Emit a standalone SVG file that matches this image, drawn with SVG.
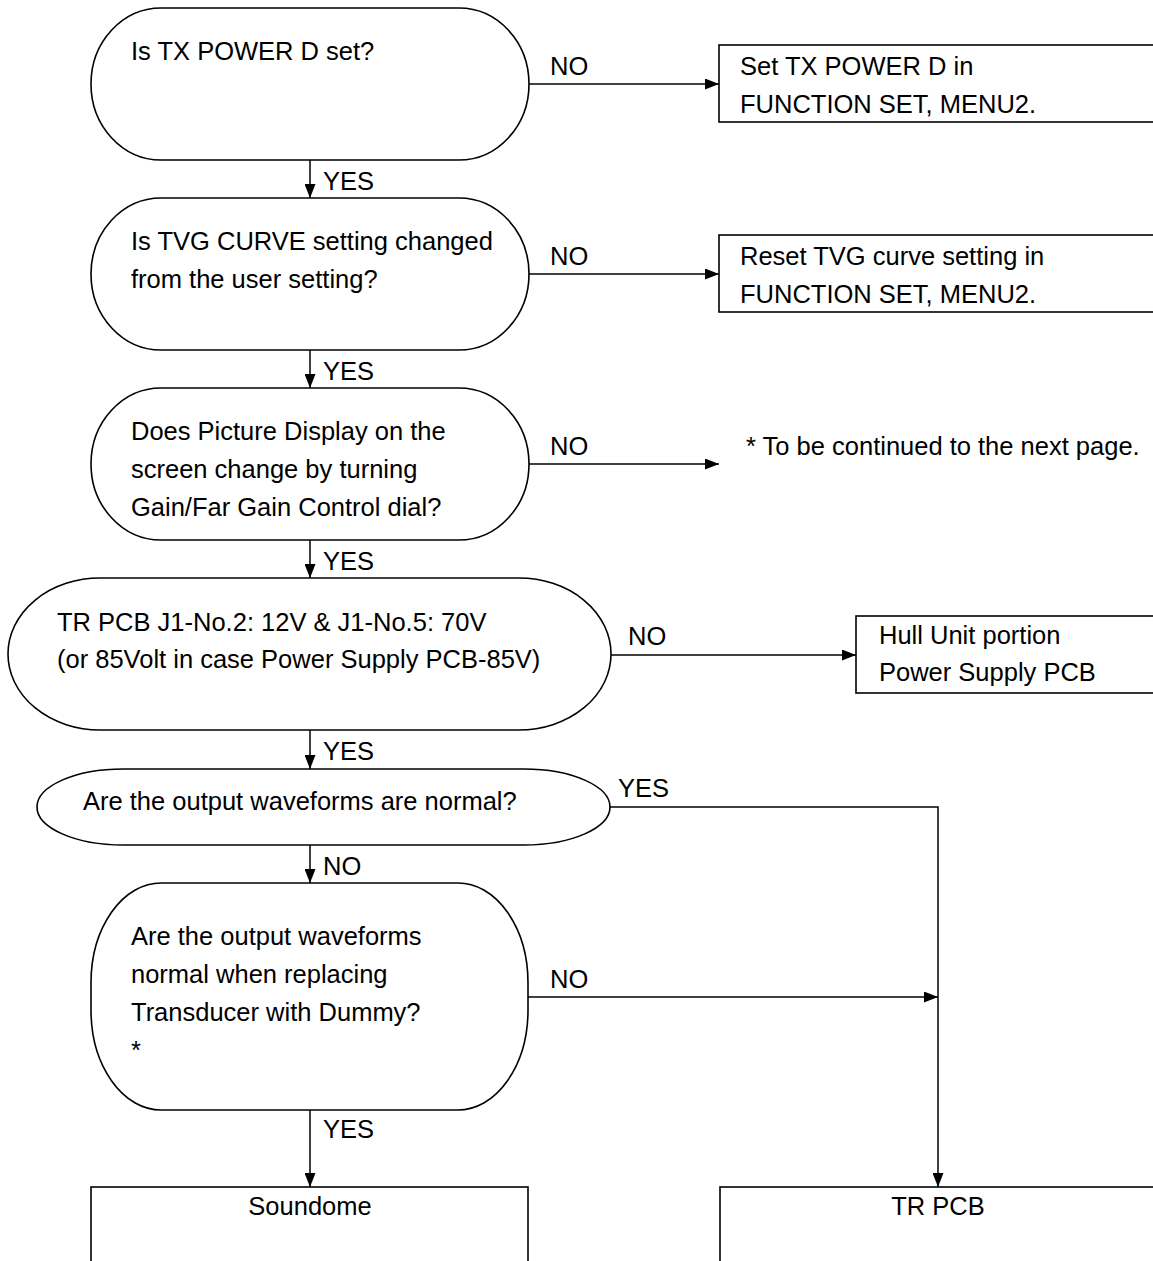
<svg xmlns="http://www.w3.org/2000/svg" width="1153" height="1261" viewBox="0 0 1153 1261">
  <defs>
    <marker id="arrow" markerUnits="userSpaceOnUse" markerWidth="14" markerHeight="11" refX="14" refY="5.5" orient="auto">
      <path d="M0,0 L14,5.5 L0,11 z" fill="#000"/>
    </marker>
  </defs>
  <style>
    .shape { fill: #fff; stroke: #000; stroke-width: 1.6; }
    .conn { fill: none; stroke: #000; stroke-width: 1.5; }
    text { font-family: "Liberation Sans", Arial, sans-serif; font-size: 25.5px; fill: #000; }
    .mid { text-anchor: middle; }
  </style>

  <!-- connectors -->
  <g id="connectors">
    <line class="conn" x1="310" y1="160" x2="310" y2="198" marker-end="url(#arrow)"/>
    <line class="conn" x1="310" y1="350" x2="310" y2="388" marker-end="url(#arrow)"/>
    <line class="conn" x1="310" y1="540" x2="310" y2="578" marker-end="url(#arrow)"/>
    <line class="conn" x1="310" y1="730" x2="310" y2="769" marker-end="url(#arrow)"/>
    <line class="conn" x1="310" y1="845" x2="310" y2="883" marker-end="url(#arrow)"/>
    <line class="conn" x1="310" y1="1110" x2="310" y2="1187" marker-end="url(#arrow)"/>

    <line class="conn" x1="529" y1="84" x2="719" y2="84" marker-end="url(#arrow)"/>
    <line class="conn" x1="529" y1="274" x2="719" y2="274" marker-end="url(#arrow)"/>
    <line class="conn" x1="529" y1="464" x2="719" y2="464" marker-end="url(#arrow)"/>
    <line class="conn" x1="611" y1="655" x2="856" y2="655" marker-end="url(#arrow)"/>
    <polyline class="conn" points="610,807 938,807 938,1187" marker-end="url(#arrow)"/>
    <line class="conn" x1="528" y1="997" x2="938" y2="997" marker-end="url(#arrow)"/>

    <text x="323" y="190">YES</text>
    <text x="323" y="380">YES</text>
    <text x="323" y="570">YES</text>
    <text x="323" y="760">YES</text>
    <text x="323" y="875">NO</text>
    <text x="323" y="1138">YES</text>

    <text x="550" y="75">NO</text>
    <text x="550" y="265">NO</text>
    <text x="550" y="455">NO</text>
    <text x="628" y="645">NO</text>
    <text x="618" y="797">YES</text>
    <text x="550" y="988">NO</text>
  </g>

  <!-- decisions -->
  <g id="q-txpower">
    <rect class="shape" x="91" y="8" width="438" height="152" rx="70" ry="76"/>
    <text x="131" y="60">Is TX POWER D set?</text>
  </g>
  <g id="q-tvg">
    <rect class="shape" x="91" y="198" width="438" height="152" rx="70" ry="76"/>
    <text x="131" y="250">Is TVG CURVE setting changed</text>
    <text x="131" y="288">from the user setting?</text>
  </g>
  <g id="q-gain">
    <rect class="shape" x="91" y="388" width="438" height="152" rx="70" ry="76"/>
    <text x="131" y="440">Does Picture Display on the</text>
    <text x="131" y="478">screen change by turning</text>
    <text x="131" y="516">Gain/Far Gain Control dial?</text>
  </g>
  <g id="q-voltage">
    <rect class="shape" x="8" y="578" width="603" height="152" rx="92" ry="76"/>
    <text x="57" y="631">TR PCB J1-No.2: 12V &amp; J1-No.5: 70V</text>
    <text x="57" y="668">(or 85Volt in case Power Supply PCB-85V)</text>
  </g>
  <g id="q-waveforms">
    <rect class="shape" x="37" y="769" width="573" height="76" rx="86" ry="38"/>
    <text x="83" y="810">Are the output waveforms are normal?</text>
  </g>
  <g id="q-dummy">
    <rect class="shape" x="91" y="883" width="437" height="227" rx="70" ry="100"/>
    <text x="131" y="945">Are the output waveforms</text>
    <text x="131" y="983">normal when replacing</text>
    <text x="131" y="1021">Transducer with Dummy?</text>
    <text x="131" y="1059">*</text>
  </g>

  <!-- actions -->
  <g id="a-set-txpower">
    <rect class="shape" x="719" y="45" width="445" height="77"/>
    <text x="740" y="75">Set TX POWER D in</text>
    <text x="740" y="113">FUNCTION SET, MENU2.</text>
  </g>
  <g id="a-reset-tvg">
    <rect class="shape" x="719" y="235" width="445" height="77"/>
    <text x="740" y="265">Reset TVG curve setting in</text>
    <text x="740" y="303">FUNCTION SET, MENU2.</text>
  </g>
  <g id="a-next-page">
    <text x="746" y="455">* To be continued to the next page.</text>
  </g>
  <g id="a-power-supply">
    <rect class="shape" x="856" y="616" width="310" height="77"/>
    <text x="879" y="644">Hull Unit portion</text>
    <text x="879" y="681">Power Supply PCB</text>
  </g>
  <g id="a-soundome">
    <rect class="shape" x="91" y="1187" width="437" height="90"/>
    <text class="mid" x="310" y="1215">Soundome</text>
  </g>
  <g id="a-tr-pcb">
    <rect class="shape" x="720" y="1187" width="444" height="90"/>
    <text class="mid" x="938" y="1215">TR PCB</text>
  </g>
</svg>
